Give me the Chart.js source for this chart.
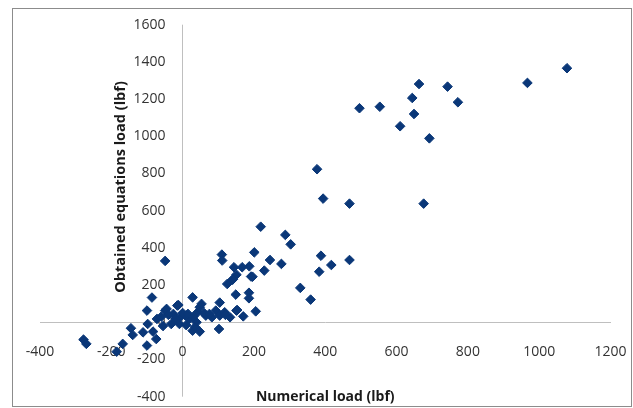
<!DOCTYPE html>
<html>
<head>
<meta charset="utf-8">
<script src="https://cdn.jsdelivr.net/npm/chart.js@4.4.1/dist/chart.umd.min.js"></script>
<style>
    html, body { margin: 0; padding: 0; background: #fff; }
    #wrap { position: relative; width: 633px; height: 408px; }
    #frame { position: absolute; left: 12px; top: 8px; width: 618px; height: 397px; border: 1px solid #8c8c8c; }
    canvas { position: absolute; left: 0; top: 0; }
</style>
</head>
<body>
<div id="wrap">
    <div id="frame"></div>
    <canvas id="chart" width="633" height="408"></canvas>
</div>
<script>
// Numerical load vs obtained equations load (lbf)
const numericalLoad = [
    1078, 967, 663, 743, 644, 772, 496, 553, 649, 610, 692, 377, 394, 468, 676,
    219, 288, 303, 201, 110, 111, -49, 245, 468, 388, 277, 417, 383, 229, 144,
    167, 187, 151, 192, 140, 125, 330, 359, 149, 186, 186, 205, 153, 170, 133,
    104, 141, 196,
    -278, -270, -185, -168, -145, -140, -111, -100, -100, -86, -98, -83, -74, -72,
    -49, -45, -32, -26, -15, -9, -7, 8, 19, 28, 28, 39, 42, 48, 53, 48, 65, 82,
    93, 102, 104, 118, 151, -12, -40, -20, 0, 15, 30, 60, 75, -60, -55, 10, 35, 120
];
const equationLoad = [
    1366, 1287, 1281, 1267, 1206, 1183, 1151, 1159, 1120, 1054, 989, 823, 665, 638, 638,
    514, 470, 419, 376, 364, 332, 330, 335, 335, 358, 314, 308, 272, 278, 296,
    296, 301, 256, 246, 229, 206, 185, 122, 149, 159, 129, 59, 66, 32, 27,
    106, 231, 245,
    -93, -116, -158, -116, -32, -68, -54, -125, 63, 133, -9, -50, -90, 18,
    63, 72, -9, 45, 90, -9, 27, 36, 18, 134, -45, 0, 54, 81, 99, -50, 36, 27,
    63, -36, 36, 54, 63, 93, 40, 20, 50, 45, 30, 50, 45, 30, -20, -15, -25, 40
];
const xTicks = [-400, -200, 0, 200, 400, 600, 800, 1000, 1200];
const yTicks = [-400, -200, 0, 200, 400, 600, 800, 1000, 1200, 1400, 1600];
const xTitle = 'Numerical load (lbf)';
const yTitle = 'Obtained equations load (lbf)';

const points = numericalLoad.map((x, i) => ({ x: x, y: equationLoad[i] }));

Chart.defaults.font.family = '"Open Sans", sans-serif';

// titles sit at fixed spots like in the Excel chart, not next to the axes
const axisTitles = {
    id: 'axisTitles',
    afterDraw(chart) {
        const ctx = chart.ctx;
        const area = chart.chartArea;
        ctx.save();
        ctx.fillStyle = '#1a1a1a';
        ctx.textAlign = 'center';
        ctx.textBaseline = 'middle';
        ctx.font = 'bold 14px "Open Sans"';
        ctx.fillText(xTitle, (area.left + area.right) / 2, 397);
        ctx.font = 'bold 14.5px "Open Sans"';
        ctx.translate(121, 187);
        ctx.rotate(-Math.PI / 2);
        ctx.fillText(yTitle, 0, 0);
        ctx.restore();
    }
};

const ctx = document.getElementById('chart').getContext('2d');
const chart = new Chart(ctx, {
    type: 'scatter',
    data: {
        datasets: [{
            label: 'Load',
            data: points,
            pointStyle: 'rectRot',
            pointRadius: 4.8,
            pointBorderWidth: 1,
            backgroundColor: '#0a3778',
            borderColor: '#0a3778'
        }]
    },
    options: {
        responsive: false,
        animation: false,
        layout: {
            autoPadding: false,
            padding: { left: 40, right: 22.5, top: 24.7, bottom: 11.3 }
        },
        plugins: {
            legend: { display: false },
            tooltip: { enabled: false }
        },
        scales: {
            x: {
                type: 'linear',
                position: { y: 0 },
                min: xTicks[0],
                max: xTicks[xTicks.length - 1],
                afterFit(scale) {
                    scale.height = 0;
                    scale.paddingLeft = 0;
                    scale.paddingRight = 0;
                },
                afterBuildTicks(scale) { scale.ticks = xTicks.map(v => ({ value: v })); },
                grid: {
                    display: true,
                    drawTicks: false,
                    color: c => (c.tick && c.tick.value === 0 ? '#bfbfbf' : 'rgba(0,0,0,0)')
                },
                border: { display: true, color: '#bfbfbf' },
                ticks: {
                    font: { size: 14 },
                    color: '#333',
                    padding: 21,
                    maxRotation: 0,
                    autoSkip: false,
                    callback: v => String(v)
                }
            },
            y: {
                type: 'linear',
                position: { x: -48 },
                min: yTicks[0],
                max: yTicks[yTicks.length - 1],
                afterFit(scale) {
                    scale.width = 0;
                    scale.paddingTop = 0;
                    scale.paddingBottom = 0;
                },
                afterBuildTicks(scale) { scale.ticks = yTicks.map(v => ({ value: v })); },
                grid: { display: false },
                border: { display: false },
                ticks: {
                    font: { size: 14 },
                    color: '#333',
                    padding: 0,
                    autoSkip: false,
                    callback: v => String(v)
                }
            }
        }
    },
    plugins: [axisTitles]
});
</script>
</body>
</html>
